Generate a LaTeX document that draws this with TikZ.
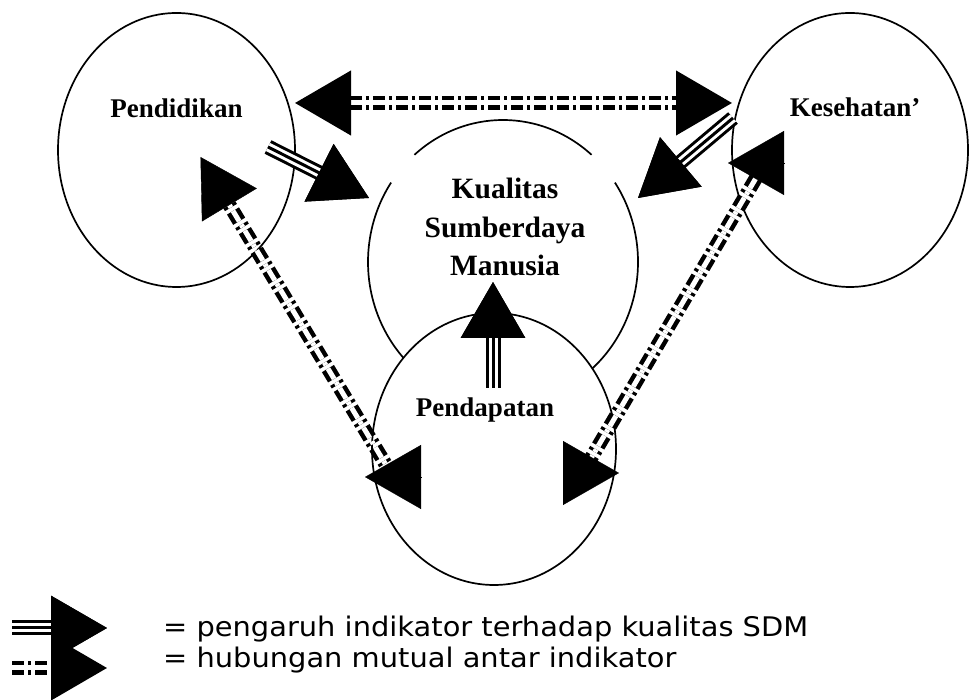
\documentclass[tikz,border=0pt]{standalone}
\usepackage{fontspec}
\setmainfont{Liberation Serif}
\newfontfamily\keyfont[FakeStretch=1.07]{DejaVu Sans}
\usetikzlibrary{arrows.meta,calc,shapes.geometric}

\begin{document}
\begin{tikzpicture}[x=1pt,y=1pt,
  >={Triangle[length=56pt,width=64pt]},
  oval/.style={ellipse,draw,line width=1.7pt,inner sep=0pt,outer sep=0pt},
  lbl/.style={font=\bfseries\fontsize{27}{30}\selectfont,inner sep=0pt,anchor=base},
  keytext/.style={font=\keyfont\fontsize{27}{30}\selectfont,inner sep=0pt,anchor=base west},
  mutual/.style={double,double distance=5pt,line width=4.5pt,line join=round,
    dash pattern=on 12pt off 4pt on 3pt off 4pt},
  pengaruh/.style={double,double distance=9pt,line width=3pt},
  tengah/.style={line width=3pt}]
\useasboundingbox (0,0) rectangle (969,700);

\node[ellipse,minimum width=270pt,minimum height=284pt,inner sep=0pt,outer sep=0pt] (kual) at (503,438) {};
\draw[line width=1.7pt] (kual.center) ++(49:135 and 142) arc[start angle=49,end angle=131,x radius=135,y radius=142];
\draw[line width=1.7pt] (kual.center) ++(146:135 and 142) arc[start angle=146,end angle=250,x radius=135,y radius=142];
\draw[line width=1.7pt] (kual.center) ++(-70:135 and 142) arc[start angle=-70,end angle=34,x radius=135,y radius=142];

\node[oval,minimum width=237pt,minimum height=274pt] (pend) at (176.5,550) {};
\node[oval,minimum width=236pt,minimum height=274pt] (kes) at (850,550) {};
\node[oval,fill=white,minimum width=244pt,minimum height=272pt] (pdpt) at (494,251) {};

\node[lbl] (pendtxt) at (176.5,582) {Pendidikan};
\node[lbl] (kestxt) at (855,583) {Kesehatan'};
\node[lbl] (pdpttxt) at (485,283) {Pendapatan};
\node[font=\bfseries\fontsize{29.5}{38.5}\selectfont,align=center,inner sep=0pt] (kualtxt) at (505,473) {Kualitas\\Sumberdaya\\Manusia};

\coordinate (pu) at ($(pend.center)+(24,-7)$);
\coordinate (pm) at ($(pdpt.west)+(14,-16)$);
\coordinate (pl) at ($(pdpt.west)+(-7,-28)$);
\coordinate (ku) at ($(kes.west)+(-4,-13)$);
\coordinate (km) at ($(kes.west)+(24,-28)$);
\coordinate (kn) at ($(pdpt.east)+(-26,-11)$);
\coordinate (kl) at ($(pdpt.east)+(3,-24)$);

\draw[mutual,<->] ([yshift=47pt]pend.east) -- ([yshift=47pt]kes.west);
\draw[mutual,shorten <=40pt] (pu) -- (pm);
\draw[mutual] (km) -- (kn);
\draw[->] ($(pu)!56pt!(pm)$) -- (pu);
\draw[->] ($(pl)+(56,0)$) -- (pl);
\draw[->] ($(ku)+(56,0)$) -- (ku);
\draw[->] ($(kl)+(-56,0)$) -- (kl);

\draw[pengaruh,->] ($(pend.east)+(-27,3)$) -- ($(kual.west)+(1,64)$);
\draw[tengah,->] ($(pend.east)+(-27,3)$) -- ($(kual.west)+(1,64)$);
\draw[pengaruh,->] ($(kes.west)+(1,32)$) -- ($(kual.east)+(0,64)$);
\draw[tengah,->] ($(kes.west)+(1,32)$) -- ($(kual.east)+(0,64)$);
\draw[pengaruh,->] ($(pdpt.north)+(-1,-75)$) -- ($(kual.center)+(-10,-20)$);
\draw[tengah,->] ($(pdpt.north)+(-1,-75)$) -- ($(kual.center)+(-10,-20)$);

\coordinate (la) at (12,72);
\coordinate (lb) at (107,72);
\coordinate (lc) at (12,32);
\coordinate (ld) at (107,32);
\draw[pengaruh,->] (la) -- (lb);
\draw[tengah,->] (la) -- (lb);
\draw[mutual,->] (lc) -- (ld);
\node[keytext] (keta) at (163,63) {= pengaruh indikator terhadap kualitas SDM};
\node[keytext] (ketb) at (163,32) {= hubungan mutual antar indikator};
\end{tikzpicture}
\end{document}
